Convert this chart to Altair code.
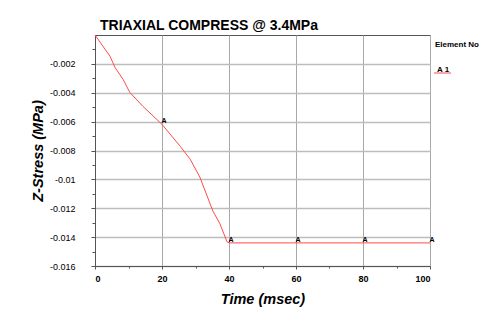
import altair as alt
import pandas as pd

# Data
time_ms = [0, 4.5, 6, 8.4, 10.4, 14.3, 20, 25.4, 28.4, 31.3, 35.2, 37.3, 39.4, 40, 60, 80, 100]
z_stress = [0, -0.00148, -0.00226, -0.00308, -0.00398, -0.00494, -0.00619, -0.0077,
            -0.0086, -0.00984, -0.0122, -0.01308, -0.01432, -0.0144, -0.0144, -0.0144, -0.0144]
marker_time = [20, 40, 60, 80, 100]
marker_stress = [-0.00619, -0.0144, -0.0144, -0.0144, -0.0144]
marker_label = ["A", "A", "A", "A", "A"]
y_ticks = [-0.016, -0.015, -0.014, -0.013, -0.012, -0.011, -0.010, -0.009, -0.008,
           -0.007, -0.006, -0.005, -0.004, -0.003, -0.002, -0.001]
x_ticks = [0, 10, 20, 30, 40, 50, 60, 70, 80, 90, 100]
legend_title = ["Element No"]
legend_label = ["A 1"]

curve = pd.DataFrame({"t": time_ms, "s": z_stress})
marks = pd.DataFrame({"t": marker_time, "s": marker_stress, "lab": marker_label})

RED = "#ff4b4b"
FONT = "Liberation Sans"
YMAJ = "abs(round(datum.value*1000)) % 2 == 0"

x_axis = alt.Axis(
    values=x_ticks, labelOverlap=False,
    title="Time (msec)", titleFont=FONT, titleFontSize=14.5, titleFontWeight="bold",
    titleFontStyle="italic", titleColor="#000", titlePadding=9,
    labelFont=FONT, labelFontSize=9, labelFontWeight="bold", labelColor="#000",
    labelExpr="datum.value % 20 == 0 ? datum.label : ''", labelPadding=5,
    domainColor="#555", tickColor="#555",
    tickSize={"condition": {"test": "datum.value % 20 == 0", "value": 3}, "value": 2},
    grid=True, gridColor="#a8a8a8", gridWidth=1,
    gridOpacity={"condition": {"test": "datum.value % 20 == 0", "value": 1}, "value": 0},
)

y_axis = alt.Axis(
    values=y_ticks, labelOverlap=False,
    title="Z-Stress (MPa)", titleFont=FONT, titleFontSize=14.5, titleFontWeight="bold",
    titleFontStyle="italic", titleColor="#000", titlePadding=4,
    labelFont=FONT, labelFontSize=9, labelColor="#000",
    labelExpr=YMAJ + " ? '-' + format(abs(datum.value), '.3~f') : ''",
    labelPadding=16,
    domainColor="#555", tickColor="#555",
    tickSize={"condition": {"test": YMAJ, "value": 4}, "value": 3},
    grid=True, gridColor="#bdbdbd", gridWidth=1.5,
    gridOpacity={"condition": {"test": YMAJ, "value": 1}, "value": 0},
)

x_scale = alt.Scale(domain=[0, 100], nice=False, zero=False)
y_scale = alt.Scale(domain=[-0.016, 0], nice=False, zero=False)

line = alt.Chart(curve).mark_line(color=RED, strokeWidth=1).encode(
    x=alt.X("t:Q", scale=x_scale, axis=x_axis),
    y=alt.Y("s:Q", scale=y_scale, axis=y_axis),
)

labels = alt.Chart(marks).mark_text(
    font=FONT, fontSize=7, fontWeight="bold", color="#000", dx=2, dy=-3, align="center"
).encode(
    x=alt.X("t:Q", scale=x_scale, axis=x_axis),
    y=alt.Y("s:Q", scale=y_scale, axis=y_axis),
    text="lab:N",
)

leg_title = alt.Chart(pd.DataFrame({"txt": legend_title})).mark_text(
    font=FONT, fontSize=8, fontWeight="bold", color="#000", align="left", baseline="middle"
).encode(x=alt.value(340), y=alt.value(10), text="txt:N")

leg_line = alt.Chart(pd.DataFrame({"txt": legend_label})).mark_rule(
    color=RED, strokeWidth=1
).encode(x=alt.value(339), x2=alt.value(356), y=alt.value(38))

leg_label = alt.Chart(pd.DataFrame({"txt": legend_label})).mark_text(
    font=FONT, fontSize=8, fontWeight="bold", color="#000", align="left", baseline="alphabetic"
).encode(x=alt.value(342), y=alt.value(37), text="txt:N")

chart = alt.layer(line, labels, leg_title, leg_line, leg_label).properties(
    width=335, height=231,
    padding={"left": 95, "top": 35, "right": 73, "bottom": 47},
    autosize=alt.AutoSizeParams(type="none"),
    title=alt.TitleParams(
        "TRIAXIAL COMPRESS @ 3.4MPa", anchor="start", frame="group",
        font=FONT, fontSize=14, fontWeight="bold", color="#000", dx=5, dy=4, offset=4,
    ),
    background="white",
).configure_view(stroke="#555", strokeWidth=1)

chart.save("out.html", embed_options={"renderer": "svg", "actions": False})
